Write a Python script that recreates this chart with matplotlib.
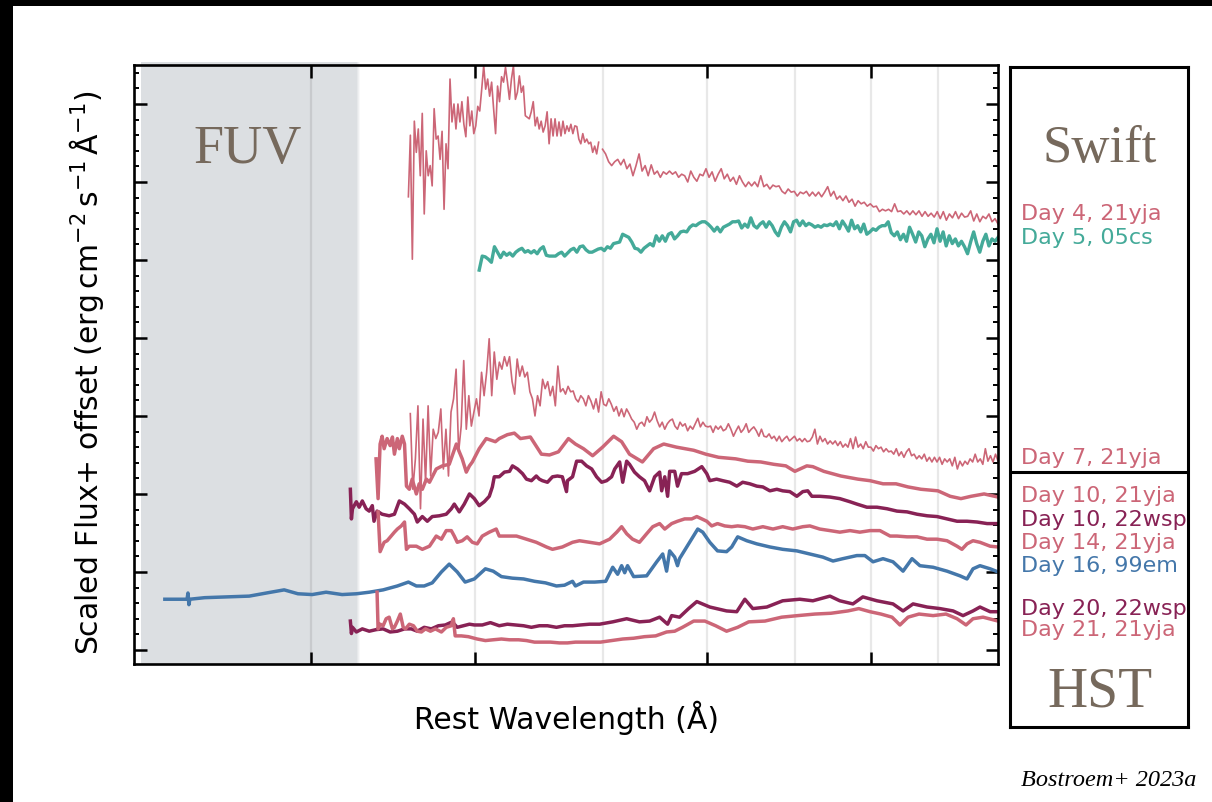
import numpy as np
import matplotlib
matplotlib.use("Agg")
import matplotlib.pyplot as plt
from matplotlib import transforms
from matplotlib.patches import Rectangle
from matplotlib.ticker import FixedLocator, NullLocator, MultipleLocator, NullFormatter

ROSE = "#CC6677"
TEAL = "#44AA99"
WINE = "#882255"
BLUE = "#4477AA"
TITLE = "#76695c"

# ---------------------------------------------------------------------------
# Swift UVOT grism spectra: fluxes on uniform log-wavelength grids (Angstrom)
# ---------------------------------------------------------------------------
day4_21yja_range_a = (1779, 2483)
day4_21yja_flux_a = [
    5.81, 6.60, 5.01, 6.78, 6.38, 6.68, 6.08, 6.88, 5.59,
    6.40, 6.08, 6.21, 5.95, 6.94, 6.55, 6.59, 6.29, 6.65,
    5.65, 6.49, 6.17, 7.32, 6.77, 7.00, 6.68, 7.00,
    6.77, 7.03, 6.74, 6.58, 7.09, 6.72, 6.91, 6.62, 6.72, 6.97,
    6.91, 7.19, 7.49, 7.19, 7.32, 7.10, 7.28, 6.94, 6.62, 7.23,
    7.03, 7.35, 7.28, 7.47, 7.28, 7.06, 7.32, 7.49, 7.06, 7.15,
    7.36, 7.15, 7.23, 6.85, 6.83, 6.81, 6.90, 7.03, 6.72, 6.83,
    6.68, 6.78, 6.64, 6.72, 6.90, 6.49, 6.81, 6.59, 6.81, 6.59,
    6.77, 6.59, 6.78, 6.62, 6.72, 6.65, 6.74, 6.62, 6.72, 6.71,
    6.55, 6.49, 6.62, 6.51, 6.55, 6.49, 6.51, 6.38, 6.46, 6.36, 6.51,
]
day4_21yja_range_b = (2500, 5000)
day4_21yja_flux_b = [
    6.42, 6.36, 6.26, 6.21, 6.26, 6.29, 6.22, 6.29, 6.17, 6.23,
    6.08, 6.21, 6.36, 6.14, 6.21, 6.08, 6.22, 6.10, 6.14, 6.06,
    6.13, 6.10, 6.14, 6.10, 6.13, 6.06, 6.10, 6.08, 6.00, 6.14,
    6.06, 6.01, 6.10, 6.08, 6.17, 6.06, 6.13, 6.01, 6.10, 6.17,
    6.04, 6.10, 6.01, 6.06, 5.97, 6.08, 6.00, 5.94, 6.00, 5.95,
    6.00, 5.94, 6.08, 5.94, 5.97, 5.91, 5.96, 5.94, 5.95, 5.88,
    5.85, 5.91, 5.87, 5.88, 5.82, 5.87, 5.85, 5.88, 5.82, 5.87,
    5.82, 5.87, 5.81, 5.87, 5.94, 5.82, 5.88, 5.78, 5.82, 5.76,
    5.82, 5.74, 5.78, 5.69, 5.76, 5.72, 5.74, 5.69, 5.72, 5.68,
    5.69, 5.62, 5.65, 5.63, 5.65, 5.62, 5.72, 5.62, 5.63, 5.59,
    5.63, 5.58, 5.63, 5.58, 5.63, 5.56, 5.62, 5.56, 5.60, 5.55,
    5.62, 5.53, 5.62, 5.51, 5.59, 5.54, 5.62, 5.53, 5.60, 5.55,
    5.56, 5.63, 5.50, 5.59, 5.49, 5.56, 5.53, 5.59, 5.49, 5.53, 5.46,
]

day5_05cs_range = (2014, 5000)
day5_05cs_flux = [
    4.87, 5.05, 5.04, 5.01, 4.97, 5.17, 5.10, 5.03, 5.10, 5.06,
    5.09, 5.05, 5.10, 5.13, 5.15, 5.10, 5.12, 5.09, 5.12, 5.08,
    5.14, 5.17, 5.06, 5.05, 5.05, 5.05, 5.08, 5.10, 5.05, 5.09,
    5.13, 5.15, 5.10, 5.17, 5.18, 5.13, 5.10, 5.10, 5.12, 5.14,
    5.15, 5.12, 5.17, 5.15, 5.21, 5.22, 5.23, 5.33, 5.31, 5.29,
    5.23, 5.15, 5.14, 5.10, 5.15, 5.18, 5.21, 5.18, 5.31, 5.24,
    5.31, 5.24, 5.33, 5.35, 5.27, 5.31, 5.36, 5.37, 5.36, 5.42,
    5.45, 5.44, 5.47, 5.49, 5.49, 5.46, 5.42, 5.37, 5.42, 5.36,
    5.42, 5.44, 5.46, 5.49, 5.49, 5.50, 5.41, 5.46, 5.42, 5.54,
    5.44, 5.41, 5.46, 5.49, 5.42, 5.49, 5.44, 5.36, 5.31, 5.42,
    5.49, 5.44, 5.36, 5.49, 5.51, 5.44, 5.50, 5.44, 5.47, 5.45,
    5.42, 5.44, 5.42, 5.45, 5.44, 5.46, 5.44, 5.49, 5.40, 5.50,
    5.44, 5.37, 5.51, 5.40, 5.44, 5.36, 5.46, 5.33, 5.36, 5.40,
    5.38, 5.42, 5.44, 5.44, 5.49, 5.35, 5.31, 5.36, 5.26, 5.33,
    5.24, 5.42, 5.33, 5.23, 5.36, 5.31, 5.17, 5.27, 5.33, 5.22,
    5.40, 5.24, 5.36, 5.18, 5.31, 5.21, 5.27, 5.18, 5.24, 5.17,
    5.08, 5.23, 5.36, 5.21, 5.10, 5.24, 5.33, 5.18, 5.27, 5.24,
    5.29,
]

day7_21yja_range = (1785, 5000)
day7_21yja_flux = [
    3.03, 2.06, 2.45, 3.13, 1.81, 2.96, 2.15, 3.13, 2.23, 2.83,
    2.71, 2.79, 3.09, 2.32, 2.83, 2.23, 3.05, 3.22, 3.60, 2.54,
    2.87, 3.71, 2.83, 3.26, 2.87, 3.05, 3.22, 3.00, 3.56, 3.26,
    3.56, 3.99, 3.26, 3.82, 3.47, 3.69, 3.60, 3.76, 3.64, 3.76,
    3.44, 3.28, 3.73, 3.51, 3.64, 3.50, 3.56, 3.31, 3.22, 3.00,
    3.26, 3.13, 3.47, 3.35, 3.44, 3.26, 3.38, 3.13, 3.64, 3.31,
    3.35, 3.28, 3.38, 3.31, 3.32, 3.22, 3.18, 3.26, 3.22, 3.13,
    3.26, 3.19, 3.09, 3.22, 3.05, 3.31, 3.15, 3.13, 3.22, 3.15,
    3.06, 3.12, 3.00, 3.09, 2.99, 3.09, 3.03, 2.96, 2.92, 2.83,
    2.90, 2.92, 2.87, 2.99, 2.92, 2.96, 3.05, 2.94, 2.86, 2.92,
    2.83, 2.90, 2.94, 2.96, 2.87, 2.83, 2.92, 2.87, 2.90, 2.81,
    2.87, 2.83, 2.90, 2.97, 2.86, 2.92, 2.87, 2.86, 2.87, 2.79,
    2.87, 2.83, 2.87, 2.81, 2.83, 2.90, 2.83, 2.74, 2.81, 2.87,
    2.79, 2.83, 2.90, 2.79, 2.83, 2.86, 2.81, 2.74, 2.83, 2.74,
    2.73, 2.77, 2.71, 2.74, 2.68, 2.74, 2.67, 2.71, 2.74, 2.68,
    2.71, 2.74, 2.68, 2.71, 2.67, 2.71, 2.67, 2.68, 2.73, 2.83,
    2.64, 2.74, 2.67, 2.71, 2.64, 2.68, 2.64, 2.68, 2.62, 2.67,
    2.60, 2.64, 2.60, 2.71, 2.58, 2.73, 2.60, 2.64, 2.58, 2.67,
    2.60, 2.60, 2.55, 2.62, 2.58, 2.60, 2.54, 2.58, 2.54, 2.55,
    2.51, 2.58, 2.49, 2.54, 2.47, 2.54, 2.58, 2.49, 2.51, 2.45,
    2.49, 2.45, 2.51, 2.42, 2.47, 2.41, 2.47, 2.41, 2.47, 2.38,
    2.45, 2.41, 2.45, 2.36, 2.47, 2.32, 2.42, 2.36, 2.42, 2.38,
    2.45, 2.41, 2.51, 2.41, 2.45, 2.38, 2.58, 2.42, 2.49, 2.41,
    2.51, 2.42,
]

# ---------------------------------------------------------------------------
# HST STIS spectra: wavelength (Angstrom) and scaled flux + offset
# ---------------------------------------------------------------------------
day10_21yja_wave = [
    1681, 1687, 1693, 1699, 1705, 1714, 1723, 1730, 1736, 1745,
    1751, 1760, 1767, 1773, 1782, 1791, 1804, 1813, 1823, 1836,
    1846, 1868, 1888, 1911, 1935, 1945, 1955, 1969, 1980, 1990,
    2014, 2039, 2072, 2086, 2116, 2142, 2165, 2203, 2246, 2278,
    2314, 2355, 2384, 2418, 2457, 2500, 2549, 2585, 2621, 2681,
    2734, 2783, 2846, 2933, 2996, 3064, 3157, 3225, 3299, 3375,
    3447, 3502, 3576, 3614, 3684, 3796, 3911, 3995, 4087, 4181,
    4270, 4368, 4500, 4597, 4685, 4769, 4879, 5000,
]
day10_21yja_flux = [
    2.45, 1.94, 2.64, 2.74, 2.58, 2.71, 2.62, 2.73, 2.51, 2.71,
    2.58, 2.74, 2.64, 2.10, 2.06, 2.19, 2.00, 2.13, 2.06, 2.19,
    2.15, 2.32, 2.36, 2.38, 2.64, 2.54, 2.45, 2.28, 2.36, 2.41,
    2.58, 2.71, 2.67, 2.71, 2.76, 2.78, 2.71, 2.73, 2.51, 2.50,
    2.54, 2.71, 2.64, 2.58, 2.49, 2.60, 2.74, 2.67, 2.51, 2.41,
    2.58, 2.64, 2.60, 2.56, 2.51, 2.47, 2.45, 2.42, 2.41, 2.38,
    2.36, 2.29, 2.36, 2.35, 2.29, 2.23, 2.19, 2.17, 2.13, 2.13,
    2.09, 2.06, 2.04, 1.97, 1.94, 1.97, 2.00, 1.96,
]

day10_22wsp_wave = [
    1607, 1610, 1613, 1624, 1632, 1641, 1652, 1661, 1670, 1675,
    1684, 1699, 1720, 1736, 1751, 1767, 1782, 1798, 1807, 1823,
    1839, 1855, 1878, 1901, 1918, 1928, 1945, 1962, 1980, 1997,
    2014, 2032, 2050, 2061, 2068, 2086, 2105, 2124, 2135, 2154,
    2173, 2188, 2207, 2226, 2238, 2250, 2270, 2290, 2310, 2330,
    2347, 2351, 2372, 2389, 2410, 2431, 2453, 2474, 2496, 2518,
    2540, 2554, 2576, 2590, 2608, 2621, 2644, 2667, 2691, 2715,
    2739, 2763, 2773, 2788, 2802, 2812, 2837, 2851, 2871, 2902,
    2938, 2975, 3001, 3017, 3053, 3086, 3124, 3163, 3196, 3236,
    3276, 3311, 3352, 3393, 3428, 3471, 3514, 3551, 3582, 3608,
    3658, 3724, 3789, 3857, 3904, 3973, 4044, 4116, 4188, 4263,
    4338, 4415, 4493, 4572, 4653, 4735, 4819, 4905, 5000,
]
day10_22wsp_flux = [
    2.06, 1.68, 1.81, 1.90, 1.83, 1.91, 1.81, 1.78, 1.85, 1.65,
    1.78, 1.74, 1.72, 1.74, 1.91, 1.87, 1.81, 1.74, 1.64, 1.71,
    1.65, 1.71, 1.72, 1.74, 1.81, 1.87, 1.77, 1.87, 2.00, 1.94,
    1.85, 1.90, 1.97, 2.09, 2.22, 2.22, 2.28, 2.29, 2.36, 2.32,
    2.26, 2.19, 2.17, 2.23, 2.19, 2.17, 2.15, 2.22, 2.23, 2.22,
    2.03, 2.17, 2.22, 2.42, 2.42, 2.36, 2.32, 2.22, 2.15, 2.17,
    2.22, 2.32, 2.41, 2.15, 2.42, 2.38, 2.28, 2.22, 2.17, 2.04,
    2.22, 2.28, 2.04, 2.22, 1.97, 2.29, 2.29, 2.10, 2.26, 2.26,
    2.29, 2.35, 2.26, 2.17, 2.19, 2.17, 2.15, 2.10, 2.15, 2.13,
    2.10, 2.09, 2.04, 2.06, 2.04, 2.03, 1.97, 2.03, 2.04, 1.97,
    1.97, 1.96, 1.94, 1.90, 1.87, 1.83, 1.83, 1.81, 1.78, 1.77,
    1.74, 1.72, 1.71, 1.68, 1.65, 1.65, 1.64, 1.62, 1.62,
]

day14_21yja_wave = [
    1687, 1693, 1705, 1714, 1726, 1736, 1745, 1757, 1767, 1773,
    1782, 1804, 1823, 1846, 1868, 1885, 1901, 1918, 1928, 1938,
    1955, 1972, 1990, 2007, 2025, 2050, 2075, 2086, 2112, 2150,
    2188, 2226, 2266, 2290, 2330, 2372, 2401, 2444, 2487, 2531,
    2563, 2585, 2608, 2635, 2667, 2701, 2730, 2763, 2788, 2822,
    2851, 2887, 2923, 2949, 2975, 3001, 3027, 3058, 3097, 3135,
    3168, 3208, 3253, 3311, 3370, 3428, 3489, 3551, 3595, 3658,
    3724, 3789, 3857, 3924, 3995, 4065, 4138, 4188, 4263, 4338,
    4415, 4493, 4572, 4653, 4693, 4735, 4785, 4844, 4931, 5000,
]
day14_21yja_flux = [
    1.77, 1.26, 1.38, 1.40, 1.46, 1.51, 1.55, 1.59, 1.64, 1.29,
    1.33, 1.33, 1.29, 1.33, 1.46, 1.42, 1.53, 1.53, 1.46, 1.38,
    1.40, 1.45, 1.38, 1.36, 1.46, 1.51, 1.55, 1.46, 1.46, 1.46,
    1.42, 1.38, 1.32, 1.29, 1.32, 1.38, 1.40, 1.38, 1.36, 1.42,
    1.51, 1.58, 1.49, 1.42, 1.38, 1.49, 1.58, 1.62, 1.55, 1.62,
    1.65, 1.68, 1.68, 1.71, 1.68, 1.65, 1.59, 1.62, 1.59, 1.58,
    1.59, 1.58, 1.55, 1.58, 1.55, 1.58, 1.55, 1.58, 1.59, 1.55,
    1.53, 1.51, 1.53, 1.51, 1.53, 1.53, 1.46, 1.46, 1.45, 1.45,
    1.42, 1.42, 1.40, 1.33, 1.29, 1.36, 1.40, 1.38, 1.33, 1.32,
]

day16_99em_wave = [
    1161, 1190, 1207, 1209, 1211, 1213, 1245, 1294, 1346, 1398,
    1431, 1466, 1503, 1540, 1584, 1624, 1661, 1702, 1745, 1779,
    1804, 1829, 1855, 1885, 1911, 1938, 1965, 1997, 2036, 2064,
    2094, 2135, 2177, 2219, 2262, 2306, 2339, 2372, 2384, 2418,
    2466, 2514, 2545, 2567, 2585, 2599, 2612, 2640, 2701, 2749,
    2778, 2797, 2812, 2837, 2851, 2861, 2912, 2954, 2980, 3017,
    3058, 3107, 3135, 3168, 3219, 3276, 3352, 3428, 3514, 3595,
    3678, 3744, 3809, 3904, 3959, 4016, 4087, 4159, 4233, 4300,
    4360, 4462, 4572, 4677, 4735, 4785, 4844, 4931, 5000,
]
day16_99em_flux = [
    0.65, 0.65, 0.65, 0.73, 0.58, 0.65, 0.67, 0.68, 0.69, 0.74,
    0.77, 0.72, 0.71, 0.74, 0.71, 0.72, 0.74, 0.77, 0.82, 0.87,
    0.82, 0.82, 0.86, 1.00, 1.10, 1.00, 0.87, 0.91, 1.04, 1.01,
    0.94, 0.92, 0.91, 0.88, 0.86, 0.82, 0.83, 0.88, 0.82, 0.87,
    0.87, 0.88, 1.06, 0.97, 1.08, 0.99, 1.08, 0.94, 0.95, 1.13,
    1.23, 1.01, 1.27, 1.19, 1.08, 1.17, 1.38, 1.55, 1.51, 1.38,
    1.27, 1.26, 1.32, 1.45, 1.40, 1.36, 1.32, 1.29, 1.27, 1.23,
    1.19, 1.14, 1.17, 1.21, 1.21, 1.13, 1.17, 1.13, 1.01, 1.17,
    1.08, 1.06, 1.01, 0.95, 0.91, 1.04, 1.08, 1.04, 1.00,
]

day20_22wsp_wave = [
    1607, 1610, 1613, 1624, 1641, 1661, 1681, 1702, 1723, 1745,
    1767, 1788, 1807, 1829, 1852, 1875, 1898, 1921, 1938, 1959,
    1980, 1997, 2025, 2054, 2086, 2116, 2146, 2177, 2207, 2238,
    2270, 2306, 2339, 2372, 2405, 2444, 2487, 2545, 2608, 2667,
    2715, 2763, 2802, 2822, 2861, 2907, 2949, 3017, 3107, 3163,
    3208, 3253, 3334, 3428, 3532, 3614, 3724, 3789, 3877, 3945,
    4044, 4159, 4233, 4308, 4415, 4516, 4621, 4702, 4785, 4844,
    4931, 5000,
]
day20_22wsp_flux = [
    0.37, 0.21, 0.29, 0.23, 0.27, 0.24, 0.26, 0.27, 0.23, 0.24,
    0.27, 0.27, 0.24, 0.29, 0.27, 0.31, 0.32, 0.36, 0.29, 0.31,
    0.33, 0.32, 0.32, 0.35, 0.31, 0.33, 0.32, 0.31, 0.29, 0.31,
    0.31, 0.29, 0.31, 0.31, 0.32, 0.33, 0.33, 0.36, 0.40, 0.36,
    0.37, 0.42, 0.33, 0.44, 0.42, 0.53, 0.62, 0.55, 0.50, 0.49,
    0.65, 0.53, 0.55, 0.63, 0.65, 0.63, 0.69, 0.63, 0.59, 0.68,
    0.63, 0.59, 0.50, 0.59, 0.55, 0.53, 0.50, 0.44, 0.50, 0.55,
    0.49, 0.49,
]

day21_21yja_wave = [
    1684, 1687, 1693, 1702, 1711, 1720, 1730, 1736, 1745, 1754,
    1763, 1770, 1782, 1795, 1807, 1820, 1833, 1849, 1865, 1885,
    1901, 1918, 1925, 1931, 1952, 1976, 2007, 2036, 2064, 2094,
    2124, 2158, 2188, 2219, 2250, 2282, 2318, 2351, 2384, 2418,
    2453, 2491, 2540, 2590, 2640, 2691, 2744, 2797, 2837, 2876,
    2933, 2991, 3048, 3107, 3168, 3230, 3323, 3422, 3520, 3627,
    3730, 3843, 3917, 3995, 4072, 4152, 4210, 4270, 4353, 4462,
    4564, 4653, 4727, 4785, 4870, 5000,
]
day21_21yja_flux = [
    0.74, 0.27, 0.33, 0.31, 0.40, 0.42, 0.27, 0.29, 0.37, 0.46,
    0.29, 0.27, 0.33, 0.31, 0.24, 0.23, 0.27, 0.24, 0.27, 0.23,
    0.29, 0.31, 0.40, 0.18, 0.18, 0.17, 0.14, 0.12, 0.13, 0.14,
    0.13, 0.13, 0.12, 0.10, 0.10, 0.10, 0.09, 0.09, 0.10, 0.10,
    0.10, 0.10, 0.12, 0.14, 0.15, 0.17, 0.18, 0.23, 0.24, 0.29,
    0.37, 0.37, 0.31, 0.24, 0.29, 0.36, 0.37, 0.42, 0.44, 0.46,
    0.47, 0.50, 0.53, 0.49, 0.46, 0.42, 0.32, 0.42, 0.46, 0.44,
    0.46, 0.40, 0.32, 0.40, 0.42, 0.37,
]

# Legend entries shown in the side panel
legend_labels = ["Day 4, 21yja", "Day 5, 05cs", "Day 7, 21yja",
                 "Day 10, 21yja", "Day 10, 22wsp", "Day 14, 21yja",
                 "Day 16, 99em", "Day 20, 22wsp", "Day 21, 21yja"]
legend_colors = [ROSE, TEAL, ROSE, ROSE, WINE, ROSE, BLUE, WINE, ROSE]
legend_y = [0.7335, 0.7036, 0.4296, 0.3823, 0.3524, 0.3238, 0.2951, 0.2416, 0.2154]

grid_waves = [1500, 2000, 2500, 3000, 3500, 4000, 4500]
tick_waves = [1500, 2000, 3000, 4000]
fuv_band = (1113, 1626)


def log_grid(rng, flux):
    return np.geomspace(rng[0], rng[1], len(flux))


fig = plt.figure(figsize=(12.12, 8.03), dpi=100)

# black frame strips along the top and left edges
fig.patches.append(Rectangle((0, 1 - 7 / 803), 1, 7 / 803, transform=fig.transFigure,
                             color="black", lw=0, zorder=10))
fig.patches.append(Rectangle((0, 0), 13 / 1212, 1, transform=fig.transFigure,
                             color="black", lw=0, zorder=10))

ax = fig.add_axes([0.1106, 0.1719, 0.7129, 0.7459])
ax.set_xscale("log")
ax.set_xlim(1100, 5000)
ax.set_ylim(-0.18, 7.5)

# FUV band shading with a softened red edge
trans = transforms.blended_transform_factory(ax.transData, ax.transAxes)
ax.add_patch(Rectangle((fuv_band[0], 0), fuv_band[1] - fuv_band[0], 1.005,
                       transform=trans, facecolor="#dcdfe2", lw=0, zorder=0,
                       clip_on=False))
for k, a in enumerate([0.7, 0.45, 0.2]):
    lo = fuv_band[1] * (1 + 0.0018 * k)
    ax.add_patch(Rectangle((lo, 0), fuv_band[1] * 0.0018, 1.005, transform=trans,
                           facecolor="#dcdfe2", alpha=a, lw=0, zorder=0,
                           clip_on=False))

for w in grid_waves:
    ax.axvline(w, color="black", alpha=0.09, lw=1.6, zorder=0.5)

# Swift spectra
ax.plot(log_grid(day4_21yja_range_a, day4_21yja_flux_a), day4_21yja_flux_a,
        color=ROSE, lw=1.2, zorder=3)
ax.plot(log_grid(day4_21yja_range_b, day4_21yja_flux_b), day4_21yja_flux_b,
        color=ROSE, lw=1.2, zorder=3)
ax.plot(log_grid(day5_05cs_range, day5_05cs_flux), day5_05cs_flux,
        color=TEAL, lw=2.4, zorder=3)
ax.plot(log_grid(day7_21yja_range, day7_21yja_flux), day7_21yja_flux,
        color=ROSE, lw=1.2, zorder=3)

# HST spectra
hst = [
    (day10_21yja_wave, day10_21yja_flux, ROSE),
    (day10_22wsp_wave, day10_22wsp_flux, WINE),
    (day14_21yja_wave, day14_21yja_flux, ROSE),
    (day16_99em_wave, day16_99em_flux, BLUE),
    (day20_22wsp_wave, day20_22wsp_flux, WINE),
    (day21_21yja_wave, day21_21yja_flux, ROSE),
]
for wave, flux, col in hst:
    ax.plot(wave, flux, color=col, lw=2.5, zorder=3, solid_joinstyle="round")

ax.xaxis.set_major_locator(FixedLocator(tick_waves))
ax.xaxis.set_minor_locator(NullLocator())
ax.xaxis.set_major_formatter(NullFormatter())
ax.xaxis.set_minor_formatter(NullFormatter())
ax.yaxis.set_major_locator(MultipleLocator(1))
ax.yaxis.set_minor_locator(MultipleLocator(0.2))
ax.yaxis.set_major_formatter(NullFormatter())
ax.tick_params(which="both", direction="in", top=True, right=True)
ax.tick_params(which="major", length=9, width=1.8)
ax.tick_params(which="minor", length=3.6, width=1.4)
for sp in ax.spines.values():
    sp.set_linewidth(1.9)
    sp.set_zorder(5)

ax.set_xlabel("Rest Wavelength (Å)", fontsize=21.5)
ax.xaxis.set_label_coords(0.5, -0.059)
ax.set_ylabel("Scaled Flux+ offset (erg$\\,$cm$^{-2}$$\\,$s$^{-1}$$\\,$Å$^{-1}$)",
              fontsize=21.5)
ax.yaxis.set_label_coords(-0.033, 0.488)

ax.text(0.2046, 0.797, "FUV", transform=fig.transFigure, ha="center",
        va="baseline", fontsize=39, family="Liberation Serif", color=TITLE)

# side panel with instrument names and spectrum labels
pax = fig.add_axes([0.8333, 0.0934, 0.1469, 0.8219])
pax.set_xticks([])
pax.set_yticks([])
for sp in pax.spines.values():
    sp.set_linewidth(2.2)
pax.axhline(0.3864, color="black", lw=2.2)

fig.text(0.9076, 0.7983, "Swift", ha="center", va="baseline", fontsize=38,
         family="Liberation Serif", color=TITLE)
fig.text(0.9076, 0.1196, "HST", ha="center", va="baseline", fontsize=40,
         family="Liberation Serif", color=TITLE)
for lab, col, y in zip(legend_labels, legend_colors, legend_y):
    fig.text(0.8424, y, lab, ha="left", va="center", fontsize=16, color=col)

fig.text(0.9868, 0.0274, "Bostroem+ 2023a", ha="right", va="center",
         fontsize=17.5, family="Liberation Serif", style="italic")

fig.savefig("out.png", dpi=100)
